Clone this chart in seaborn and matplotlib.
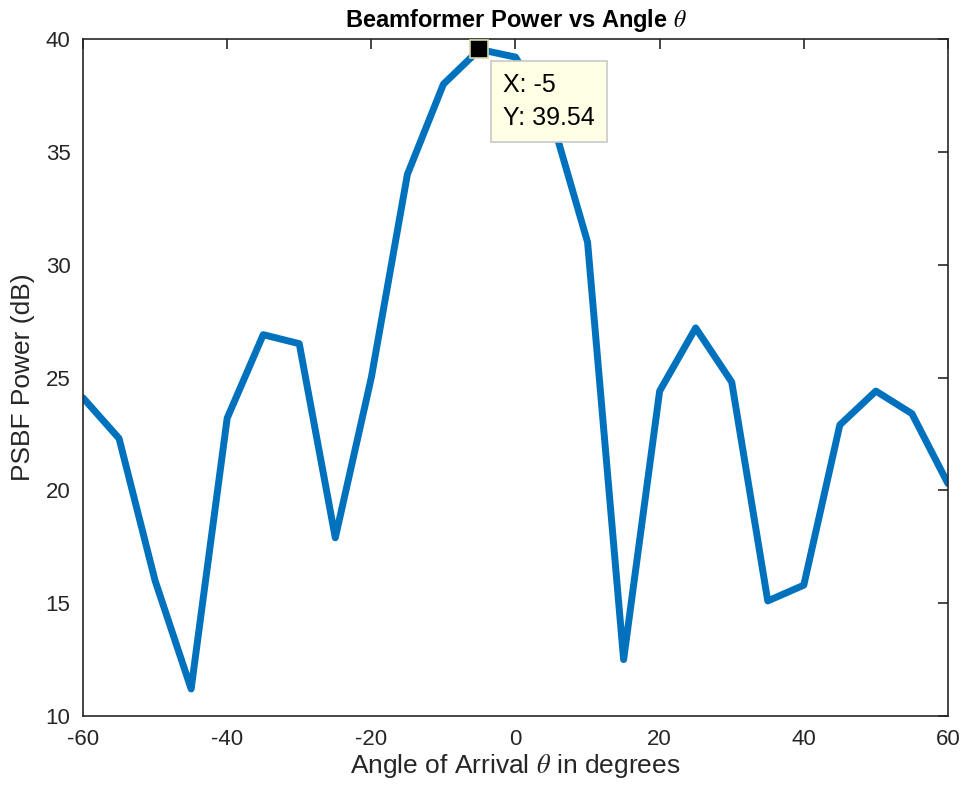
import numpy as np
import pandas as pd
import matplotlib
matplotlib.use("Agg")
import matplotlib.pyplot as plt
import seaborn as sns

# --- dados ---
angulos = [-60, -55, -50, -45, -40, -35, -30, -25, -20, -15, -10, -5,
           0, 5, 10, 15, 20, 25, 30, 35, 40, 45, 50, 55, 60]
potencia_db = [24.1, 22.3, 16.0, 11.2, 23.2, 26.9, 26.5, 17.9, 25.0, 34.0, 38.0, 39.54,
               39.2, 36.5, 31.0, 12.5, 24.4, 27.2, 24.8, 15.1, 15.8, 22.9, 24.4, 23.4, 20.3]
tip_x = -5
tip_y = 39.54

sns.set_style("white")
plt.rcParams['font.family'] = ['Liberation Sans', 'DejaVu Sans']
plt.rcParams['mathtext.fontset'] = 'stix'
plt.rcParams['axes.unicode_minus'] = False

df = pd.DataFrame({'angulo': angulos, 'potencia': potencia_db})

fig = plt.figure(figsize=(9.62, 7.97), dpi=100)
ax = fig.add_axes([0.0863, 0.1016, 0.8991, 0.8494])

sns.lineplot(data=df, x='angulo', y='potencia', color='#0072BD', linewidth=5, ax=ax)

# marcador do data tip
ax.plot([tip_x], [tip_y], marker='s', markersize=13, color='black',
        markeredgecolor='#D8D8A8', markeredgewidth=1.2, zorder=5)
ax.annotate(f"X: {tip_x}\nY: {tip_y:.2f}", xy=(tip_x, tip_y), xytext=(503, 724),
            textcoords='figure pixels', fontsize=18, va='top', ha='left', linespacing=1.45,
            color='black',
            bbox=dict(boxstyle='square,pad=0.48', fc='#FFFFE6', ec='#C8C8C8', lw=1.2),
            zorder=6)

ax.set_xlim(-60, 60)
ax.set_ylim(10, 40)
ax.set_xticks(np.arange(-60, 61, 20))
ax.set_yticks(np.arange(10, 41, 5))

for s in ax.spines.values():
    s.set_color('#262626')
    s.set_linewidth(1.2)
    s.set_visible(True)
ax.tick_params(direction='in', length=7, width=1.2, top=True, right=True,
               labelsize=16, colors='#262626', pad=9)

ax.set_xlabel(r"Angle of Arrival $\theta$ in degrees", fontsize=19, color='#262626', labelpad=2)
ax.set_ylabel("PSBF Power (dB)", fontsize=19, color='#262626', labelpad=8)
ax.set_title(r"Beamformer Power vs Angle $\theta$", fontsize=17, fontweight='bold',
             color='black', pad=9)

fig.savefig("out.png", dpi=100)
